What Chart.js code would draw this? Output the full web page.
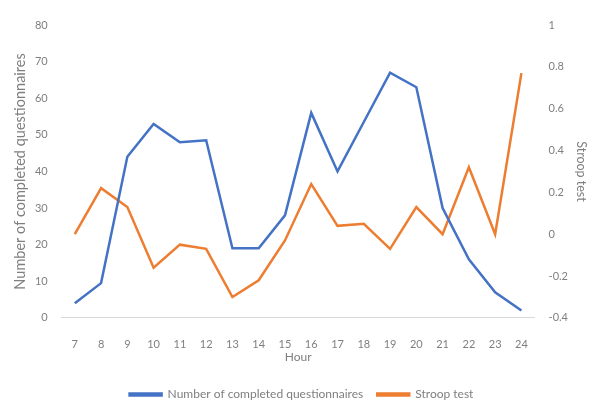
<!DOCTYPE html>
<html>
<head>
<meta charset="utf-8">
<script src="https://cdn.jsdelivr.net/npm/chart.js@4/dist/chart.umd.min.js"></script>
<style>
  html, body { margin: 0; padding: 0; background: #fff; }
  #wrap { width: 595px; height: 401px; }
</style>
</head>
<body>
<div id="wrap"><canvas id="chart" width="595" height="401"></canvas></div>
<script>
// hours on the x axis
const hours = ['7','8','9','10','11','12','13','14','15','16','17','18','19','20','21','22','23','24'];

// left axis: completed questionnaires per hour
const questionnaires = [4, 9.5, 44, 53, 48, 48.5, 19, 19, 28, 56, 40, 53.5, 67, 63, 30, 16, 7, 2];

// right axis: stroop test
const stroop = [0, 0.22, 0.13, -0.16, -0.05, -0.07, -0.3, -0.22, -0.03, 0.24, 0.04, 0.05, -0.07, 0.13, 0, 0.32, 0, 0.77];

const blue = '#4472C4';
const orange = '#ED7D31';
const textGray = '#7f7f7f';
const family = 'Lato, "Open Sans", sans-serif';
const tickFont = { family: family, size: 11 };

new Chart(document.getElementById('chart').getContext('2d'), {
    type: 'line',
    data: {
        labels: hours,
        datasets: [{
            label: 'Number of completed questionnaires',
            data: questionnaires,
            borderColor: blue,
            backgroundColor: blue,
            borderWidth: 2.5,
            pointRadius: 0,
            tension: 0,
            yAxisID: 'y'
        }, {
            label: 'Stroop test',
            data: stroop,
            borderColor: orange,
            backgroundColor: orange,
            borderWidth: 2.5,
            pointRadius: 0,
            tension: 0,
            yAxisID: 'y1'
        }]
    },
    options: {
        responsive: false,
        animation: false,
        layout: { padding: { top: 25, left: 8, right: 0, bottom: -9.5 } },
        plugins: {
            legend: {
                position: 'bottom',
                labels: {
                    font: { family: family, size: 12 },
                    color: textGray,
                    boxWidth: 32,
                    boxHeight: 2,
                    padding: 14
                }
            },
            tooltip: { enabled: false }
        },
        scales: {
            x: {
                offset: true,
                // invisible tick marks just push the labels down
                grid: { display: true, drawOnChartArea: false, drawTicks: true, tickLength: 17, tickColor: 'rgba(0,0,0,0)' },
                border: { display: true, color: '#d9d9d9' },
                ticks: { font: tickFont, color: textGray, padding: 3, maxRotation: 0 },
                title: { display: true, text: 'Hour', font: { family: family, size: 12 }, color: textGray, padding: { top: -4.5, bottom: 10.5 } }
            },
            y: {
                position: 'left',
                min: 0,
                max: 80,
                grid: { display: false, drawTicks: false },
                border: { display: false },
                ticks: { stepSize: 10, font: tickFont, color: textGray, padding: 14 },
                title: { display: true, text: 'Number of completed questionnaires', font: { family: family, size: 14.5 }, color: textGray, padding: { top: 4, bottom: -8.5 } }
            },
            y1: {
                position: 'right',
                min: -0.4,
                max: 1,
                grid: { display: false, drawTicks: false },
                border: { display: false },
                ticks: {
                    stepSize: 0.2,
                    font: tickFont,
                    color: textGray,
                    padding: 14,
                    callback: v => String(Math.round(v * 10) / 10)
                },
                title: { display: true, text: 'Stroop test', font: { family: family, size: 12.5 }, color: textGray, padding: { top: 6.5, bottom: -8.5 } }
            }
        }
    }
});
</script>
</body>
</html>
